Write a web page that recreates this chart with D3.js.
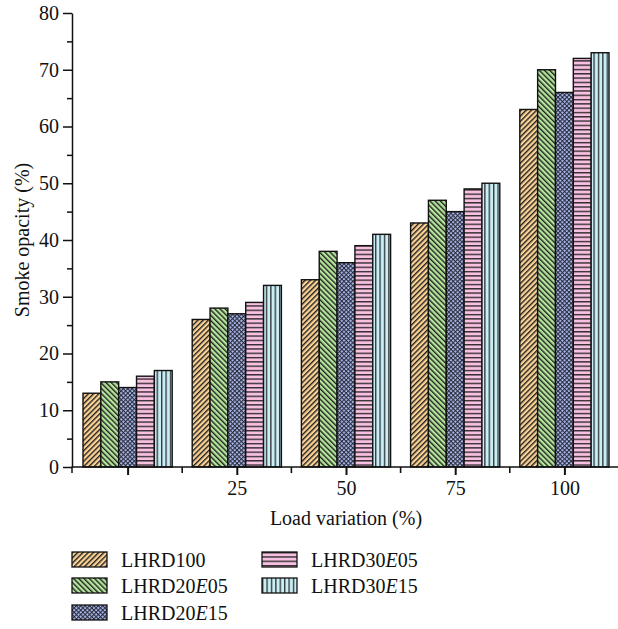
<!DOCTYPE html>
<html>
<head>
<meta charset="utf-8">
<script src="https://cdn.jsdelivr.net/npm/d3@7"></script>
<style>
  html, body { margin: 0; padding: 0; background: #fff; }
  svg { display: block; }
  text { font-family: "Liberation Serif", "Times New Roman", serif; fill: #111; }
</style>
</head>
<body>
<svg id="chart" width="618" height="629"></svg>
<script>
// ---- data ----
const categories = ["0", "25", "50", "75", "100"];
const xTickLabels = ["", "25", "50", "75", "100"];
const seriesNames = ["LHRD100", "LHRD20E05", "LHRD20E15", "LHRD30E05", "LHRD30E15"];
const LHRD100   = [13, 26, 33, 43, 63];
const LHRD20E05 = [15, 28, 38, 47, 70];
const LHRD20E15 = [14, 27, 36, 45, 66];
const LHRD30E05 = [16, 29, 39, 49, 72];
const LHRD30E15 = [17, 32, 41, 50, 73];
const seriesValues = [LHRD100, LHRD20E05, LHRD20E15, LHRD30E05, LHRD30E15];
const yTicks = [0, 10, 20, 30, 40, 50, 60, 70, 80];
const yMinorTicks = [5, 15, 25, 35, 45, 55, 65, 75];

// ---- styles ----
const fills = ["#fcd395", "#b4e69c", "#a9b9ea", "#f8c0e1", "#c9eef5"];
const patternKinds = ["fwd", "back", "cross", "horiz", "vert"];

(function draw() {
const svg = d3.select("#chart");
const pLeft = 73, pRight = 619, pTop = 13, pBottom = 467;

const x = d3.scaleBand().domain(categories).range([pLeft, pRight]).padding(0);
const inner = d3.scaleBand().domain(seriesNames).range([10, x.bandwidth() - 10]).padding(0);
const y = d3.scaleLinear().domain([0, 80]).range([pBottom, pTop]);

// patterns
const defs = svg.append("defs");
patternKinds.forEach((kind, i) => {
  let p;
  if (kind === "fwd" || kind === "back") {
    const s = 3.7;
    p = defs.append("pattern").attr("id", "pat" + i).attr("patternUnits", "userSpaceOnUse")
      .attr("width", s).attr("height", s)
      .attr("patternTransform", kind === "fwd" ? "rotate(45)" : "rotate(-45)");
    p.append("rect").attr("width", s).attr("height", s).attr("fill", fills[i]);
    p.append("line").attr("x1", 0.7).attr("x2", 0.7).attr("y1", 0).attr("y2", s)
      .attr("stroke", "#222").attr("stroke-width", 1.4);
  } else if (kind === "cross") {
    const s = 3.1;
    p = defs.append("pattern").attr("id", "pat" + i).attr("patternUnits", "userSpaceOnUse")
      .attr("width", s).attr("height", s).attr("patternTransform", "rotate(45)");
    p.append("rect").attr("width", s).attr("height", s).attr("fill", fills[i]);
    p.append("line").attr("x1", 0.5).attr("x2", 0.5).attr("y1", 0).attr("y2", s)
      .attr("stroke", "#2a2a3a").attr("stroke-width", 1.1);
    p.append("line").attr("y1", 0.5).attr("y2", 0.5).attr("x1", 0).attr("x2", s)
      .attr("stroke", "#2a2a3a").attr("stroke-width", 1.1);
  } else if (kind === "horiz") {
    const s = 4.3;
    p = defs.append("pattern").attr("id", "pat" + i).attr("patternUnits", "userSpaceOnUse")
      .attr("width", s).attr("height", s);
    p.append("rect").attr("width", s).attr("height", s).attr("fill", fills[i]);
    p.append("line").attr("x1", 0).attr("x2", s).attr("y1", 0.7).attr("y2", 0.7)
      .attr("stroke", "#222").attr("stroke-width", 1.3);
  } else {
    const s = 4.4;
    p = defs.append("pattern").attr("id", "pat" + i).attr("patternUnits", "userSpaceOnUse")
      .attr("width", s).attr("height", s);
    p.append("rect").attr("width", s).attr("height", s).attr("fill", fills[i]);
    p.append("line").attr("y1", 0).attr("y2", s).attr("x1", 0.7).attr("x2", 0.7)
      .attr("stroke", "#222").attr("stroke-width", 1.2);
  }
});

// bars
const groups = svg.append("g").selectAll("g").data(categories).join("g")
  .attr("transform", d => `translate(${x(d)},0)`);
groups.each(function(cat, ci) {
  d3.select(this).selectAll("rect")
    .data(seriesNames.map((s, si) => ({ s, si, v: seriesValues[si][ci] })))
    .join("rect")
    .attr("x", d => inner(d.s))
    .attr("width", inner.bandwidth())
    .attr("y", d => y(d.v))
    .attr("height", d => y(0) - y(d.v))
    .attr("fill", d => `url(#pat${d.si})`)
    .attr("stroke", "#111")
    .attr("stroke-width", 1.4);
});

// y axis
const yAxis = svg.append("g").attr("transform", `translate(${pLeft - 1},0)`)
  .call(d3.axisLeft(y).tickValues(yTicks).tickSize(9).tickPadding(4).tickSizeOuter(0));
yAxis.select(".domain").attr("stroke", "#111").attr("stroke-width", 1.5);
yAxis.selectAll(".tick line").attr("stroke", "#111").attr("stroke-width", 1.5);
yAxis.selectAll(".tick text").attr("font-size", 20).attr("font-family", '"Liberation Serif", serif').attr("fill", "#111");
svg.append("g").attr("transform", `translate(${pLeft - 1},0)`)
  .call(d3.axisLeft(y).tickValues(yMinorTicks).tickSize(5).tickFormat(""))
  .call(g => g.select(".domain").remove())
  .selectAll(".tick line").attr("stroke", "#111").attr("stroke-width", 1.5);

// x axis
const xMajor = d3.scalePoint().domain(categories)
  .range([x(categories[0]) + x.bandwidth() / 2, x(categories[categories.length - 1]) + x.bandwidth() / 2]);
const xAxis = svg.append("g").attr("transform", `translate(0,${pBottom})`)
  .call(d3.axisBottom(xMajor).tickSize(8).tickPadding(6).tickFormat((d, i) => xTickLabels[i]));
xAxis.select(".domain").remove();
xAxis.selectAll(".tick line").attr("stroke", "#111").attr("stroke-width", 2);
xAxis.selectAll(".tick text").attr("font-size", 20).attr("font-family", '"Liberation Serif", serif').attr("fill", "#111");
// minor ticks at group boundaries
svg.append("g").selectAll("line").data(categories.slice(1)).join("line")
  .attr("x1", d => x(d)).attr("x2", d => x(d))
  .attr("y1", pBottom).attr("y2", pBottom + 6)
  .attr("stroke", "#111").attr("stroke-width", 1.6);
svg.append("line").attr("x1", pLeft - 1.5).attr("x2", pRight + 2)
  .attr("y1", pBottom).attr("y2", pBottom).attr("stroke", "#111").attr("stroke-width", 1.5);
svg.append("line").attr("x1", pLeft - 1).attr("x2", pLeft - 1)
  .attr("y1", pBottom).attr("y2", pBottom + 6).attr("stroke", "#111").attr("stroke-width", 1.5);

// axis titles
svg.append("text").attr("x", (pLeft + pRight) / 2).attr("y", 525)
  .attr("text-anchor", "middle").attr("font-size", 20).text("Load variation (%)");
svg.append("text").attr("transform", `translate(22,${(pTop + pBottom) / 2}) rotate(-90)`)
  .attr("text-anchor", "middle").attr("font-size", 20).attr("dy", "0.35em").text("Smoke opacity (%)");

// legend
const legendPos = [
  { x: 72, y: 552 }, { x: 72, y: 578 }, { x: 72, y: 605 },
  { x: 262, y: 552 }, { x: 262, y: 578 }
];
const lg = svg.append("g").selectAll("g").data(seriesNames).join("g")
  .attr("transform", (d, i) => `translate(${legendPos[i].x},${legendPos[i].y})`);
lg.append("rect").attr("width", 35).attr("height", 15)
  .attr("fill", (d, i) => `url(#pat${i})`).attr("stroke", "#111").attr("stroke-width", 1.3);
lg.append("text").attr("x", 49).attr("y", 8).attr("dy", "0.35em").attr("font-size", 20)
  .each(function(d) {
    const t = d3.select(this);
    const m = d.match(/^(LHRD\d\d)(E)(\d\d)$/);
    if (m) {
      t.append("tspan").text(m[1]);
      t.append("tspan").attr("font-style", "italic").text(m[2]);
      t.append("tspan").text(m[3]);
    } else {
      t.text(d);
    }
  });
})();
</script>
</body>
</html>
